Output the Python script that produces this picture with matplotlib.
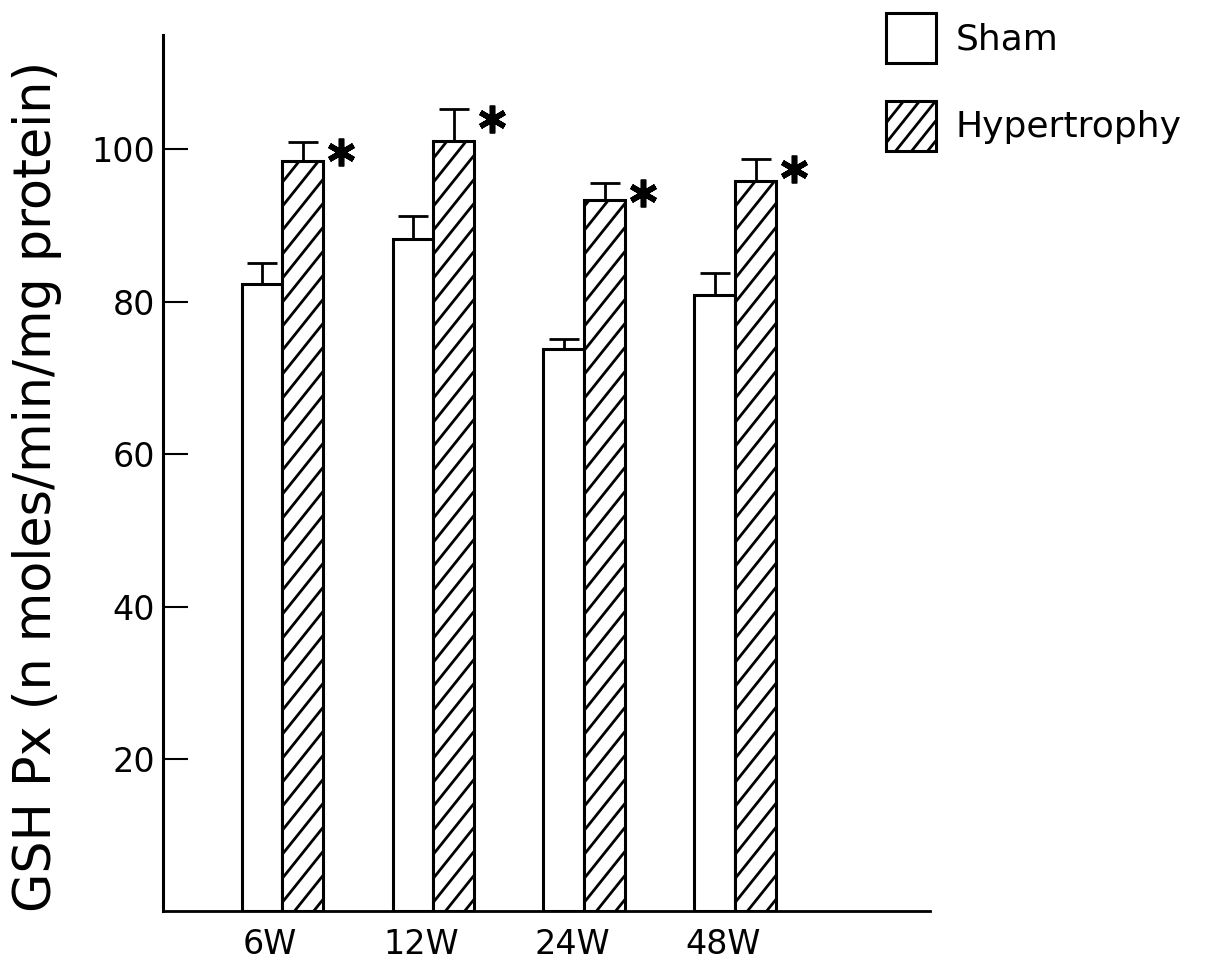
import matplotlib
matplotlib.use("Agg")
import matplotlib.pyplot as plt
from matplotlib.patches import Patch
from matplotlib.collections import LineCollection
from matplotlib.transforms import IdentityTransform
import numpy as np

plt.rcParams['font.family'] = ['DejaVu Sans']

categories = ["6W", "12W", "24W", "48W"]
sham = [82.3, 88.2, 73.8, 80.9]
sham_err = [2.8, 3.0, 1.3, 2.9]
hyper = [98.5, 101.1, 93.4, 95.9]
hyper_err = [2.5, 4.2, 2.2, 2.8]
signif = [True, True, True, True]
yticks = [20, 40, 60, 80, 100]

fig = plt.figure(figsize=(12.13, 9.63), dpi=100)
ax = fig.add_axes([0.1344, 0.0536, 0.6323, 0.9101])

x = np.arange(len(categories))
w = 0.27
ek = dict(ecolor='black', elinewidth=2.0, capsize=11, capthick=2.0, zorder=3)
ax.bar(x - w/2, sham, w, color='white', edgecolor='black', linewidth=2.2,
       yerr=[np.zeros(len(sham)), sham_err], error_kw=ek, zorder=2)
hbars = ax.bar(x + w/2, hyper, w, color='white', edgecolor='black', linewidth=2.2,
               yerr=[np.zeros(len(hyper)), hyper_err], error_kw=ek, zorder=2)

for xi, h, e, s in zip(x, hyper, hyper_err, signif):
    if s:
        ax.plot(xi + w + 0.12, h + e - 1.3, marker=(6, 2, 0), markersize=20,
                mew=4, color='black', zorder=3)

ax.set_xlim(-0.79, 4.29)
ax.set_ylim(0, 115)
ax.set_yticks(yticks)
ax.set_yticklabels([str(t) for t in yticks], fontsize=24)
ax.set_xticks(x - 0.08)
ax.set_xticklabels(categories, fontsize=24)
ax.tick_params(axis='y', direction='in', length=18, width=1.5, pad=6)
ax.tick_params(axis='x', length=0, pad=12)

for s in ['top', 'right']:
    ax.spines[s].set_visible(False)
ax.spines['left'].set_linewidth(2.2)
ax.spines['bottom'].set_linewidth(2.0)

ax.set_ylabel("GSH Px (n moles/min/mg protein)", fontsize=36.5)
ax.yaxis.set_label_coords(-0.1316, 0.485)

handles = [Patch(facecolor='white', edgecolor='black', linewidth=2.2),
           Patch(facecolor='white', edgecolor='black', linewidth=2.2)]
leg = fig.legend(handles, ["Sham", "Hypertrophy"], loc='upper left',
                 bbox_to_anchor=(886/1213, 1 - 13/963), frameon=False, fontsize=26,
                 handlelength=1.38, handleheight=1.75, handletextpad=0.55,
                 labelspacing=1.05, borderpad=0, borderaxespad=0)

fig.canvas.draw()


def add_hatch(patch, container, slope=1.25, gap=24, lw=2.0, z=2.5):
    bb = patch.get_window_extent()
    x0, y0, x1, y1 = bb.x0, bb.y0, bb.x1, bb.y1
    span = slope * (x1 - x0)
    segs = []
    c = y0 - span + gap * 0.5
    while c < y1:
        segs.append([(x0, c), (x1, c + span)])
        c += gap
    lc = LineCollection(segs, colors='black', linewidths=lw,
                        transform=IdentityTransform(), zorder=z)
    if container is ax:
        ax.add_collection(lc, autolim=False)
    else:
        container.add_artist(lc)
    lc.set_clip_path(patch)


for p in hbars.patches:
    add_hatch(p, ax)
add_hatch(leg.get_patches()[1], fig, gap=20, z=6)

fig.savefig("out.png", dpi=100)
